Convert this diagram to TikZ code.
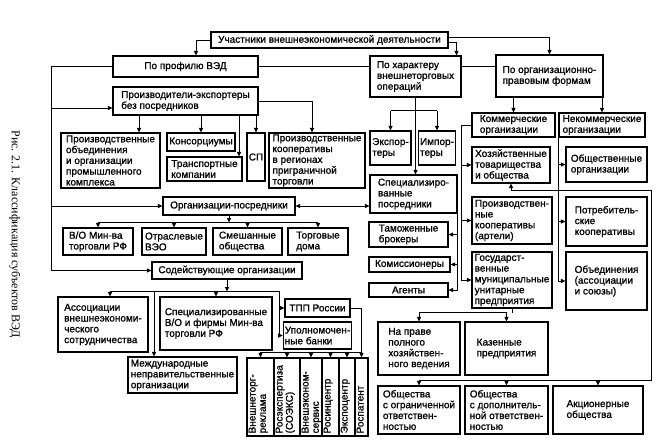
\documentclass[tikz,border=0pt]{standalone}
\usepackage{fontspec}
\newfontfamily\bxfont[FakeBold=1.1]{Liberation Sans}
\newfontfamily\capfont{Liberation Serif}
\usetikzlibrary{arrows.meta}
\newcommand\bx[7][]{\pgfmathsetmacro\bxw{#5-#3}\pgfmathsetmacro\bxh{#6-#4}%
  \node[box,minimum width=\bxw pt,minimum height=\bxh pt,#1] (#2) at ({(#3+#5)/2},{(#4+#6)/2}) {#7};}
\newcommand\rt[2]{\node[rtext] (#1t) at ([xshift=1pt,yshift=2pt]#1.south west) {#2};}
\begin{document}
\begin{tikzpicture}[x=1pt,y=-1pt,
  box/.style={draw,line width=1.1pt,inner xsep=1.5pt,inner ysep=1pt,align=left,font=\bxfont\fontsize{10}{10.8}\selectfont},
  rtext/.style={rotate=90,anchor=north west,align=left,inner sep=1pt,font=\bxfont\fontsize{10}{10.3}\selectfont},
  ln/.style={line width=0.9pt},
  arr/.style={ln,-{Triangle[length=4.5pt,width=4pt]}},
  dar/.style={ln,{Triangle[length=4.5pt,width=4pt]}-{Triangle[length=4.5pt,width=4pt]}}]
\fill[white] (0,0) rectangle (659,446);
\useasboundingbox (0,0) rectangle (659,446);

% caption
\node[rotate=-90,font=\capfont\fontsize{12}{14}\selectfont] (cap) at (15,234) {Рис. 2.1. Классификация субъектов ВЭД};

% boxes
\bx{top}{211}{32}{448}{48}{Участники внешнеэкономической деятельности}
\bx{prof}{113}{56}{258}{77}{По профилю ВЭД}
\bx{char}{370}{56}{461}{97}{По характеру\\внешнеторговых\\операций}
\bx{org}{496}{55}{603}{97}{По организационно-\\правовым формам}
\bx{prod}{113}{87}{258}{115}{Производители-экспортеры\\без посредников}
\bx{pob}{61}{133}{160}{188}{Производственные\\объединения\\и организации\\промышленного\\комплекса}
\bx{kons}{167}{133}{235}{151}{Консорциумы}
\bx{tran}{167}{157}{242}{181}{Транспортные\\компании}
\bx{sp}{247}{133}{265}{181}{СП}
\bx{pkr}{269}{133}{365}{188}{Производственные\\кооперативы\\в регионах\\приграничной\\торговли}
\bx{posr}{163}{197}{295}{215}{Организации-посредники}
\bx{vo}{63}{228}{133}{255}{В/О Мин-ва\\торговли РФ}
\bx{otr}{142}{228}{206}{255}{Отраслевые\\ВЭО}
\bx{smes}{213}{228}{282}{255}{Смешанные\\общества}
\bx{torg}{288}{228}{348}{255}{Торговые\\дома}
\bx{sod}{152}{262}{302}{279}{Содействующие организации}
\bx{assoc}{58}{297}{148}{352}{Ассоциации\\внешнеэкономи-\\ческого\\сотрудничества}
\bx{spvo}{160}{297}{272}{350}{Специализированные\\В/О и фирмы Мин-ва\\торговли РФ}
\bx{tpp}{285}{299}{350}{317}{ТПП России}
\bx{bank}{285}{322}{350}{349}{Уполномочен-\\ные банки}
\bx{mnpo}{128}{357}{237}{393}{Международные\\неправительственные\\организации}
\bx{r1}{247}{358}{274}{436}{}
\bx{r2}{274}{358}{300}{436}{}
\bx{r3}{300}{358}{322}{436}{}
\bx{r4}{322}{358}{339}{436}{}
\bx{r5}{339}{358}{355}{436}{}
\bx{r6}{355}{358}{368}{436}{}
\rt{r1}{Внешнеторг-\\реклама}
\rt{r2}{Росэкспертиза\\(СОЭКС)}
\rt{r3}{Внешэконом-\\сервис}
\rt{r4}{Росинцентр}
\rt{r5}{Экспоцентр}
\rt{r6}{Роспатент}

\bx{expo}{370}{131}{411}{165}{Экспор-\\теры}
\bx{impo}{419}{131}{455}{165}{Импор-\\теры}
\bx{spos}{370}{175}{457}{213}{Специализиро-\\ванные\\посредники}
\bx{tam}{369}{222}{448}{247}{Таможенные\\брокеры}
\bx{kom}{369}{257}{450}{272}{Комиссионеры}
\bx{agen}{369}{283}{448}{297}{Агенты}
\bx{kommer}{472}{113}{555}{137}{Коммерческие\\организации}
\bx{nekom}{559}{113}{645}{137}{Некоммерческие\\организации}
\bx{hoz}{472}{147}{550}{183}{Хозяйственные\\товарищества\\и общества}
\bx{pkoop}{472}{197}{552}{244}{Производствен-\\ные\\кооперативы\\(артели)}
\bx{gos}{472}{252}{552}{308}{Государст-\\венные\\муниципальные\\унитарные\\предприятия}
\bx{obsh}{566}{147}{647}{182}{Общественные\\организации}
\bx{potr}{566}{197}{647}{246}{Потребитель-\\ские\\кооперативы}
\bx{obed}{566}{252}{647}{310}{Объединения\\(ассоциации\\и союзы)}
\bx{napr}{378}{322}{460}{375}{На праве\\полного\\хозяйствен-\\ного ведения}
\bx{kaz}{465}{322}{548}{375}{Казенные\\предприятия}
\bx{ooo}{378}{386}{460}{434}{Общества\\с ограниченной\\ответствен-\\ностью}
\bx{odo}{465}{386}{548}{434}{Общества\\с дополнитель-\\ной ответствен-\\ностью}
\bx{ao}{553}{386}{643}{434}{Акционерные\\общества}

% top connectors
\draw[arr] (top.west) -| ([xshift=10.5pt]prof.north);
\draw[arr] ([yshift=-2pt]top.east) -| ([xshift=-5pt]char.north east);
\draw[arr] ([yshift=3pt]top.east) -| (org.north);
\draw[ln] (prof.east) -- (prof.east -| char.west);
\draw[ln] (prof.east -| char.east) -- (prof.east -| org.west);

% left bus
\coordinate (lb) at ([xshift=-61pt]prof.west);
\draw[ln] (prof.west) -- (lb) -- (lb |- sod.west);
\coordinate (pa) at ([yshift=-7pt]prod.west);
\draw[arr] (lb |- pa) -- (pa);
\draw[arr] (lb |- posr.west) -- (posr.west);
\draw[arr] (lb |- sod.west) -- (sod.west);

% producers
\draw[arr] ([xshift=28.5pt]pob.north |- prod.south) -- ([xshift=28.5pt]pob.north);
\draw[arr] (kons.north |- prod.south) -- (kons.north);
\draw[arr] ([xshift=34.5pt]tran.north |- prod.south) -- ([xshift=34.5pt]tran.north);
\draw[arr] (sp.north |- prod.south) -- (sp.north);
\draw[arr] (prod.east) -| ([xshift=-5pt]pkr.north);

% intermediaries
\coordinate (pbus) at ([yshift=-7pt]posr.south);
\draw[arr] (posr.south) -- (pbus);
\draw[ln] (pbus -| vo.north) -- (pbus -| torg.north);
\foreach \n in {vo,otr,smes,torg} \draw[arr] (pbus -| \n.north) -- (\n.north);
\draw[dar] (posr.east) -- (posr.east -| spos.west);

% assisting organisations
\coordinate (sbus) at ([yshift=-12pt]sod.south);
\draw[arr] (sod.south) -- (sbus);
\coordinate (sl) at ([xshift=7pt]assoc.north |- sbus);
\coordinate (sr) at ([xshift=-5pt]tpp.west |- sbus);
\draw[ln] (sl) -- (sr) -- (sr |- bank.west);
\draw[arr] (sl) -- ([xshift=7pt]assoc.north);
\draw[arr] (spvo.north |- sbus) -- (spvo.north);
\draw[arr] (sr |- tpp.west) -- (tpp.west);
\draw[arr] (sr |- bank.west) -- (bank.west);
\draw[arr] ([xshift=-28.5pt]mnpo.north |- sbus) -- ([xshift=-28.5pt]mnpo.north);

% TPP organisations
\coordinate (rbus) at ([yshift=5pt]r1.north);
\draw[ln] (tpp.east) -| (r6.north |- rbus) -- (rbus);
\foreach \n in {r1,r2,r3,r4,r5,r6} \draw[arr] (\n.north |- rbus) -- (\n.north);

% operations
\coordinate (cb) at ([yshift=-13pt]char.south);
\draw[arr] (char.south) -- (char.south |- spos.north);
\draw[ln] (expo.north |- cb) -- (impo.north |- cb);
\draw[arr] (expo.north |- cb) -- (expo.north);
\draw[arr] (impo.north |- cb) -- (impo.north);
\draw[ln] (spos.south east) -- (spos.south east |- agen.east);
\foreach \n in {tam,kom,agen} \draw[arr] (spos.south east |- \n.east) -- (\n.east);

% legal forms
\draw[arr] (org.south -| kommer.north) -- (kommer.north);
\draw[arr] (org.south -| nekom.north) -- (nekom.north);
\coordinate (kb) at ([xshift=-10pt]kommer.west);
\draw[ln] (kommer.west) -- (kb) -- (kb |- gos.west);
\foreach \n in {hoz,pkoop,gos} \draw[arr] (kb |- \n.west) -- (\n.west);
\draw[ln] (nekom.south west) -- (nekom.south west |- obed.west);
\foreach \n in {obsh,potr,obed} \draw[arr] (nekom.south west |- \n.west) -- (\n.west);
\coordinate (gb) at ([yshift=-4pt]gos.south);
\draw[ln] (gos.south) -- (gb);
\draw[ln] (gb -| napr.north) -- (gb -| kaz.north);
\draw[arr] (gb -| napr.north) -- (napr.north);
\draw[arr] (gb -| kaz.north) -- (kaz.north);
\coordinate (hb) at ([yshift=-7pt]hoz.south);
\coordinate (rr) at ([xshift=4pt]obsh.east |- hb);
\coordinate (bb) at ([yshift=5pt]ooo.north);
\draw[arr] (hb) -- (hoz.south);
\draw[ln] (hb) -- (rr) |- (bb);
\foreach \n in {ooo,odo,ao} \draw[arr] (\n.north |- bb) -- (\n.north);
\end{tikzpicture}
\end{document}
